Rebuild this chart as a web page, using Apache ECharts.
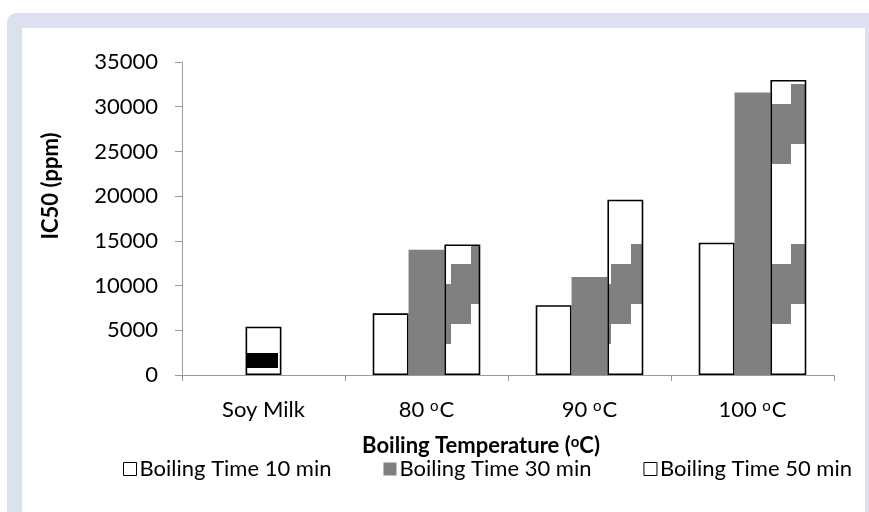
<!DOCTYPE html>
<html><head><meta charset="utf-8">
<script src="https://cdn.jsdelivr.net/npm/echarts@6/dist/echarts.min.js"></script>
<style>
html,body{margin:0;padding:0;background:#fff;width:869px;height:512px;overflow:hidden;}
#frame{position:absolute;left:7px;top:13px;width:862px;height:499px;background:#dde0ee;border-top-left-radius:9px;}
#panel{position:absolute;left:22px;top:28px;width:843px;height:484px;background:#fff;}
#chart{position:absolute;left:0;top:0;width:869px;height:512px;}
</style></head><body>
<div id="frame"></div><div id="panel"></div><div id="chart"></div>
<script>
// ---- data ----
const categories = ['Soy Milk', '80 oC', '90 oC', '100 oC'];
const seriesNames = ['Boiling Time 10 min', 'Boiling Time 30 min', 'Boiling Time 50 min'];
const time10 = [null, 6900, 7800, 14800];
const time30 = [null, 14000, 10950, 31600];
const time50 = [null, 14600, 19600, 33000];
const soyMilk = [5400, null, null, null];   // drawn in the middle slot of its group
const yTicks = [0, 5000, 10000, 15000, 20000, 25000, 30000, 35000];

// ---- styles ----
const FONT = 'Lato';
const GREY = '#808080';

function stairPattern() {
  const P = 160, cw = 20, band = 60;
  const c = document.createElement('canvas'); c.width = P; c.height = P;
  const g = c.getContext('2d');
  g.fillStyle = '#fff'; g.fillRect(0, 0, P, P);
  g.fillStyle = GREY;
  for (let m = 0; m < 8; m++) {
    const x0 = ((151 - cw * m) % P + P) % P;
    const y0 = (84 + 20 * m) % P;
    for (const dx of [0, -P]) for (const dy of [0, -P]) g.fillRect(x0 + dx, y0 + dy, cw, band);
  }
  return c;
}
function blockPattern() {
  const P = 160;
  const c = document.createElement('canvas'); c.width = P; c.height = P;
  const g = c.getContext('2d');
  g.fillStyle = '#fff'; g.fillRect(0, 0, P, P);
  g.fillStyle = '#000'; g.fillRect(86, 33, 32, 15);
  return c;
}
const stairFill = { image: stairPattern(), repeat: 'repeat' };
const blockFill = { image: blockPattern(), repeat: 'repeat' };

const whiteStyle = { color: '#fff', borderColor: '#000', borderWidth: 1.6 };

const middleData = time30.map((v, i) => soyMilk[i] != null
  ? { value: soyMilk[i], itemStyle: { color: blockFill, borderColor: '#000', borderWidth: 1.6 } }
  : v);

const chart = echarts.init(document.getElementById('chart'), null, { renderer: 'canvas' });
chart.setOption({
  animation: false,
  backgroundColor: 'transparent',
  textStyle: { fontFamily: FONT },
  grid: { left: 182, right: 35, top: 62, bottom: 137, containLabel: false },
  xAxis: {
    type: 'category',
    data: categories,
    z: 5,
    axisLine: { lineStyle: { color: '#9a9a9a', width: 1 } },
    axisTick: { show: true, length: 6, alignWithLabel: false, lineStyle: { color: '#9a9a9a' } },
    axisLabel: {
      interval: 0, margin: 24, color: '#000',
      formatter: v => v.endsWith(' oC') ? '{a|' + v.slice(0, -2) + '}{s|o}{a|C}' : '{a|' + v + '}',
      rich: {
        a: { fontFamily: FONT, fontSize: 22, lineHeight: 22, color: '#000', verticalAlign: 'middle' },
        s: { fontFamily: FONT, fontSize: 15, lineHeight: 7, color: '#000', verticalAlign: 'top', padding: [0, 1, 0, 0] }
      }
    }
  },
  yAxis: {
    type: 'value', min: 0, max: 35000, interval: 5000,
    splitLine: { show: false },
    axisLine: { show: true, lineStyle: { color: '#9a9a9a', width: 1 } },
    axisTick: { show: true, length: 7, lineStyle: { color: '#9a9a9a' } },
    axisLabel: { margin: 24, color: '#000', fontFamily: FONT, fontSize: 22,
      formatter: v => yTicks.includes(v) ? String(v) : '' }
  },
  legend: {
    left: 118, top: 453, width: 760, itemWidth: 13, itemHeight: 13, itemGap: 52,
    icon: 'rect',
    textStyle: { fontFamily: FONT, fontSize: 22, color: '#000', padding: [0, 0, 0, -2] },
    data: [
      { name: seriesNames[0], itemStyle: { color: '#fff', borderColor: '#000', borderWidth: 1 } },
      { name: seriesNames[1], itemStyle: { color: GREY, borderWidth: 0 } },
      { name: seriesNames[2], itemStyle: { color: '#fff', borderColor: '#000', borderWidth: 1 } }
    ]
  },
  graphic: [
    { type: 'text', x: 51, y: 186, rotation: Math.PI / 2,
      style: { text: 'IC50 (ppm)', font: 'bold 22px ' + FONT, fill: '#000', align: 'center', verticalAlign: 'middle' } },
    { type: 'text', x: 481, y: 446,
      style: {
        text: '{b|Boiling Temperature (}{s|o}{b|C)}', align: 'center', verticalAlign: 'middle',
        rich: {
          b: { fontFamily: FONT, fontWeight: 'bold', fontSize: 22, lineHeight: 22, fill: '#000', verticalAlign: 'middle' },
          s: { fontFamily: FONT, fontWeight: 'bold', fontSize: 15, lineHeight: 7, fill: '#000', verticalAlign: 'top' }
        }
      } }
  ],
  series: [
    { name: seriesNames[0], type: 'bar', data: time10, barGap: '0%', barCategoryGap: '34%', itemStyle: whiteStyle },
    { name: seriesNames[1], type: 'bar', data: middleData, barGap: '0%', barCategoryGap: '34%', itemStyle: { color: GREY } },
    { name: seriesNames[2], type: 'bar', data: time50, barGap: '0%', barCategoryGap: '34%',
      itemStyle: { color: stairFill, borderColor: '#000', borderWidth: 1.6 } }
  ]
});
</script>
</body></html>
